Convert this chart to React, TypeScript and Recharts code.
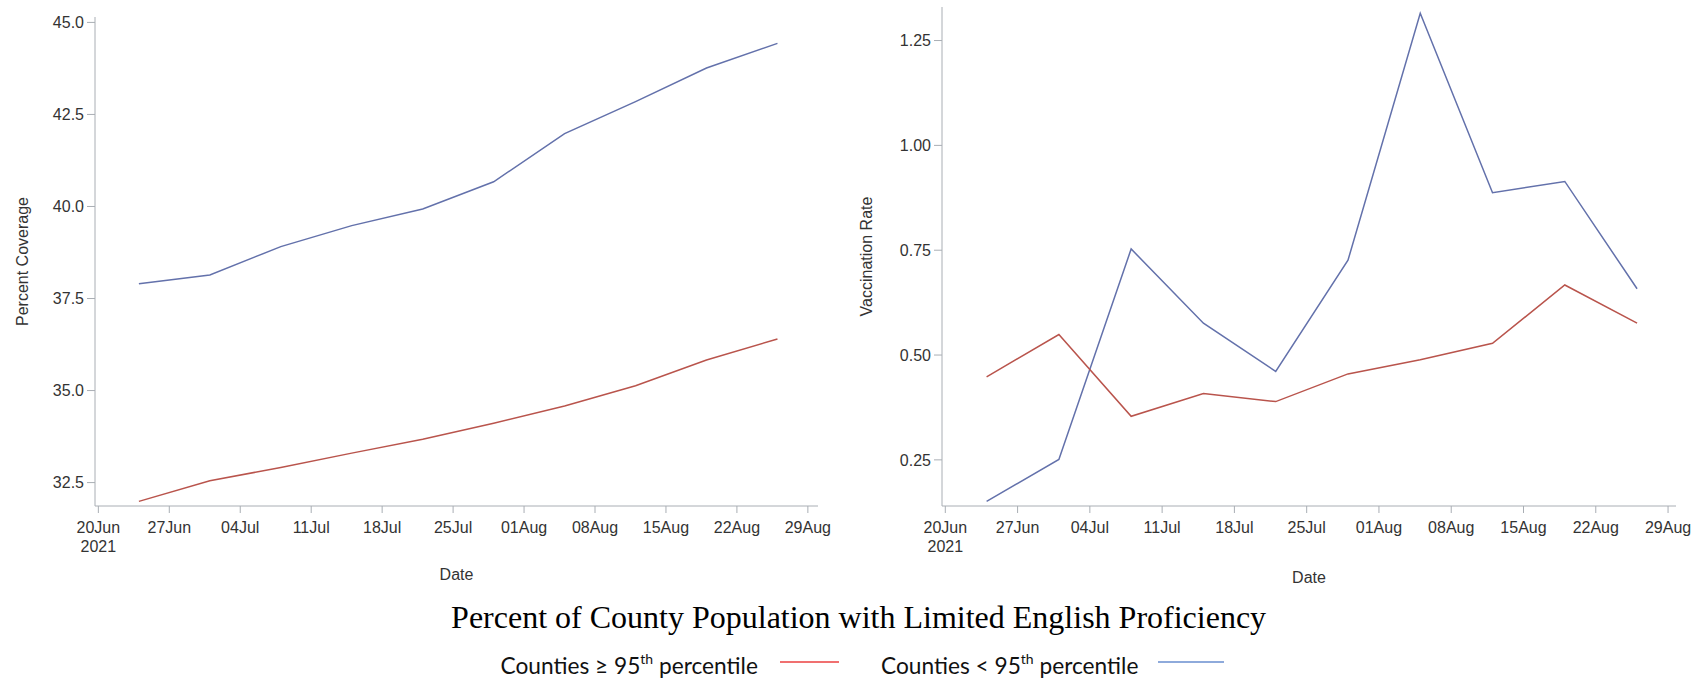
import React from 'react';
import { LineChart, Line, XAxis, YAxis } from 'recharts';

// Weekly observation dates (week ending)
const weekDates = [
  '2021-06-24', '2021-07-01', '2021-07-08', '2021-07-15', '2021-07-22',
  '2021-07-29', '2021-08-05', '2021-08-12', '2021-08-19', '2021-08-26',
];

// Percent coverage
const coverageHigh = [31.99, 32.55, 32.91, 33.3, 33.68, 34.11, 34.58, 35.13, 35.83, 36.4];
const coverageLow = [37.9, 38.14, 38.91, 39.48, 39.93, 40.67, 41.98, 42.85, 43.76, 44.43];

// Vaccination rate
const rateHigh = [0.448, 0.549, 0.354, 0.408, 0.389, 0.455, 0.489, 0.528, 0.667, 0.576];
const rateLow = [0.151, 0.251, 0.753, 0.576, 0.461, 0.726, 1.315, 0.887, 0.914, 0.658];

// Date axis ticks
const origin = '2021-06-20';
const tickDates = [
  '2021-06-20', '2021-06-27', '2021-07-04', '2021-07-11', '2021-07-18', '2021-07-25',
  '2021-08-01', '2021-08-08', '2021-08-15', '2021-08-22', '2021-08-29',
];
const tickLabels = ['20Jun', '27Jun', '04Jul', '11Jul', '18Jul', '25Jul', '01Aug', '08Aug', '15Aug', '22Aug', '29Aug'];
const yearLabel = '2021';

const coverageTicks = [32.5, 35, 37.5, 40, 42.5, 45];
const rateTicks = [0.25, 0.5, 0.75, 1.0, 1.25];

const seriesNames = ['Counties \u2265 95', 'Counties < 95'];
const titleText = 'Percent of County Population with Limited English Proficiency';

const DAY = 86400000;
const toDay = (d: string) => (Date.parse(d) - Date.parse(origin)) / DAY;
const tickDays = tickDates.map(toDay);

const coverageData = weekDates.map((d, i) => ({ t: toDay(d), high: coverageHigh[i], low: coverageLow[i] }));
const rateData = weekDates.map((d, i) => ({ t: toDay(d), high: rateHigh[i], low: rateLow[i] }));

const RED = '#b9544c';
const BLUE = '#6371ab';
const FRAME = '#a9aeb4';
const SANS = '"Liberation Sans", Arial, sans-serif';
const TEXT = '#333333';

function DateTick(props: any) {
  const { x, y, payload } = props;
  const i = tickDays.indexOf(payload.value);
  return (
    <g>
      <text x={x} y={y + 18} textAnchor="middle" fontSize={16} fill={TEXT} fontFamily={SANS}>
        {tickLabels[i]}
      </text>
      {i === 0 && (
        <text x={x} y={y + 37} textAnchor="middle" fontSize={16} fill={TEXT} fontFamily={SANS}>
          {yearLabel}
        </text>
      )}
    </g>
  );
}

function makeYLabel(text: string, cx: number) {
  return (props: any) => {
    const vb = props.viewBox;
    const x = vb.x + cx;
    const y = vb.y + vb.height / 2;
    return (
      <text x={x} y={y} transform={`rotate(-90 ${x} ${y})`} textAnchor="middle" dy="0.35em"
        fontSize={16} fill={TEXT} fontFamily={SANS}>
        {text}
      </text>
    );
  };
}

function makeXLabel(text: string, dy: number) {
  return (props: any) => {
    const vb = props.viewBox;
    return (
      <text x={vb.x + vb.width / 2} y={vb.y + dy} textAnchor="middle"
        fontSize={16} fill={TEXT} fontFamily={SANS}>
        {text}
      </text>
    );
  };
}

type PanelProps = {
  data: any[];
  width: number;
  margin: { top: number; right: number; bottom: number; left: number };
  yAxisWidth: number;
  xDomain: [number, number];
  yDomain: [number, number];
  yTicks: number[];
  digits: number;
  yLabel: string;
  yLabelX: number;
  dateDy: number;
};

function Panel(p: PanelProps) {
  return (
    <LineChart width={p.width} height={600} data={p.data} margin={p.margin}>
      <XAxis
        dataKey="t"
        type="number"
        domain={p.xDomain}
        ticks={tickDays}
        interval={0}
        height={60}
        stroke={FRAME}
        tickSize={7}
        tickMargin={2}
        tick={<DateTick />}
        label={{ content: makeXLabel('Date', p.dateDy) }}
        allowDataOverflow
      />
      <XAxis xAxisId="top" orientation="top" dataKey="t" type="number" domain={p.xDomain}
        height={0} tick={false} tickLine={false} stroke={FRAME} allowDataOverflow />
      <YAxis
        type="number"
        domain={p.yDomain}
        ticks={p.yTicks}
        interval={0}
        width={p.yAxisWidth}
        stroke={FRAME}
        tickSize={8}
        tickMargin={3}
        tick={{ fill: TEXT, fontSize: 16, fontFamily: SANS }}
        tickFormatter={(v: number) => v.toFixed(p.digits)}
        label={{ content: makeYLabel(p.yLabel, p.yLabelX) }}
        allowDataOverflow
      />
      <YAxis yAxisId="right" orientation="right" type="number" domain={p.yDomain}
        width={0} tick={false} tickLine={false} stroke={FRAME} allowDataOverflow />
      <Line type="linear" dataKey="low" stroke={BLUE} strokeWidth={1.5} dot={false} isAnimationActive={false} />
      <Line type="linear" dataKey="high" stroke={RED} strokeWidth={1.5} dot={false} isAnimationActive={false} />
    </LineChart>
  );
}

function LegendEntry({ x, name, color, lineX1, lineX2 }: { x: number; name: string; color: string; lineX1: number; lineX2: number }) {
  return (
    <g>
      <text x={x} y={674} fontSize={22.7} fill="#111" fontFamily='Lato, "Open Sans", sans-serif'>
        {name}
        <tspan fontSize={14} dy={-10}>th</tspan>
        <tspan dy={10}> percentile</tspan>
      </text>
      <line x1={lineX1} x2={lineX2} y1={662} y2={662} stroke={color} strokeWidth={2} />
    </g>
  );
}

export default function App() {
  return (
    <div style={{ position: 'absolute', left: 0, top: 0, width: 1702, height: 678, background: '#fff' }}>
      <div style={{ position: 'absolute', left: 0, top: 0 }}>
        <Panel
          data={coverageData}
          width={850}
          margin={{ top: 17, right: 32, bottom: 34, left: 0 }}
          yAxisWidth={95}
          xDomain={[-0.33, 71.0]}
          yDomain={[31.864, 45.147]}
          yTicks={coverageTicks}
          digits={1}
          yLabel="Percent Coverage"
          yLabelX={22}
          dateDy={74}
        />
      </div>
      <div style={{ position: 'absolute', left: 850, top: 0 }}>
        <Panel
          data={rateData}
          width={852}
          margin={{ top: 7, right: 26, bottom: 34, left: 0 }}
          yAxisWidth={92}
          xDomain={[-0.32, 70.77]}
          yDomain={[0.14, 1.33]}
          yTicks={rateTicks}
          digits={2}
          yLabel="Vaccination Rate"
          yLabelX={16}
          dateDy={77}
        />
      </div>
      <svg width={1702} height={678} style={{ position: 'absolute', left: 0, top: 0, pointerEvents: 'none' }}>
        <text x={858.6} y={628} textAnchor="middle" fontSize={32} fill="#000"
          fontFamily='"Liberation Serif", "Times New Roman", serif'>
          {titleText}
        </text>
        <LegendEntry x={500.5} name={seriesNames[0]} color="#f07070" lineX1={780} lineX2={839} />
        <LegendEntry x={881} name={seriesNames[1]} color="#8eaadb" lineX1={1158} lineX2={1224} />
      </svg>
    </div>
  );
}
